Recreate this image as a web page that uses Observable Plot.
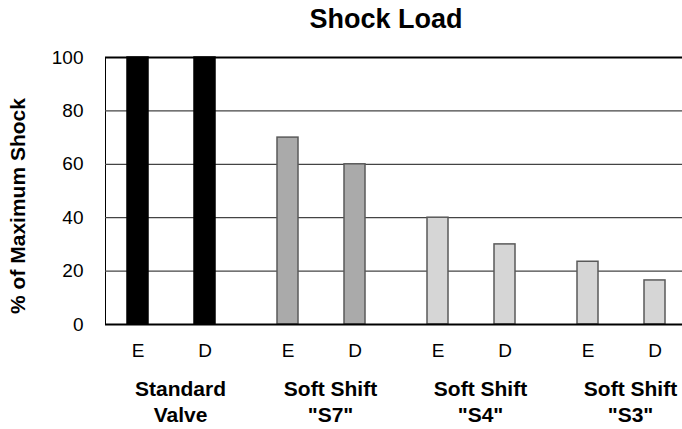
<!DOCTYPE html>
<html><head><meta charset="utf-8">
<script src="https://cdn.jsdelivr.net/npm/d3@7"></script>
<script src="https://cdn.jsdelivr.net/npm/@observablehq/plot@0.6"></script>
<style>
html,body{margin:0;padding:0;background:#fff;}
#wrap{width:682px;height:429px;overflow:hidden;position:relative;font-family:"Liberation Sans",Arial,Helvetica,sans-serif;}
#title{height:38px;line-height:38px;font-size:27px;font-weight:bold;text-align:center;padding-left:90px;width:592px;color:#000;margin-top:0px;}
#chart g[aria-label="x-axis tick label"], #chart g[aria-label="y-axis tick label"]{font-size:19px;}
</style></head><body>
<div id="wrap"><div id="title">Shock Load</div><div id="chart"></div></div>
<script>
const groups = ["Standard\nValve", "Soft Shift\n\"S7\"", "Soft Shift\n\"S4\"", "Soft Shift\n\"S3\""];
const types = ["E", "D"];
const valuesE = [100, 70, 40, 23.5];
const valuesD = [100, 60, 30, 16.5];
const yTicks = [0, 20, 40, 60, 80, 100];
const gridTicks = [20, 40, 60, 80];
const groupColors = ["#000000", "#aaaaaa", "#d6d6d6", "#d6d6d6"];
const yLabel = "% of Maximum Shock";

const rows = groups.flatMap((g, i) => [
  {group: g, type: types[0], value: valuesE[i]},
  {group: g, type: types[1], value: valuesD[i]}
]);

const font = "'Liberation Sans', Arial, Helvetica, sans-serif";

const plot = Plot.plot({
  width: 710,
  height: 391,
  marginLeft: 103,
  marginRight: 4,
  marginTop: 19,
  marginBottom: 105,
  style: {fontFamily: font, fontSize: "19px", color: "#000", background: "#fff", maxWidth: "none"},
  facet: {data: rows, x: "group"},
  fx: {domain: groups, padding: 0, axis: null, label: null},
  x: {domain: types, paddingInner: 0.69, paddingOuter: 0.457, align: 0.36, tickSize: 0, tickPadding: 19, label: null},
  y: {domain: [0, 100], ticks: yTicks, tickSize: 0, tickPadding: 22, label: null, line: true},
  color: {domain: groups, range: groupColors},
  marks: [
    Plot.ruleY(gridTicks, {stroke: "#444", strokeWidth: 1.3}),
    Plot.barY(rows, {filter: d => d.group === groups[0], x: "type", y: "value", fill: "group", stroke: "#000", strokeWidth: 1.5}),
    Plot.barY(rows, {filter: d => d.group !== groups[0], x: "type", y: "value", fill: "group", stroke: "#5a5a5a", strokeWidth: 1.5}),
    Plot.ruleY([100], {stroke: "#000", strokeWidth: 2}),
    Plot.ruleY([0], {stroke: "#000", strokeWidth: 2}),
    Plot.text(rows, {filter: d => d.type === types[0], text: "group", frameAnchor: "bottom", lineAnchor: "top", dy: 53, lineHeight: 1.25, fontWeight: "bold", fontSize: 21, fill: "#000"})
  ]
});

d3.select(plot).append("text")
  .attr("transform", "translate(25,168) rotate(-90)")
  .attr("text-anchor", "middle")
  .attr("font-weight", "bold")
  .attr("font-size", 21)
  .attr("font-family", font)
  .attr("fill", "#000")
  .text(yLabel);

document.getElementById("chart").appendChild(plot);
</script>
</body></html>
